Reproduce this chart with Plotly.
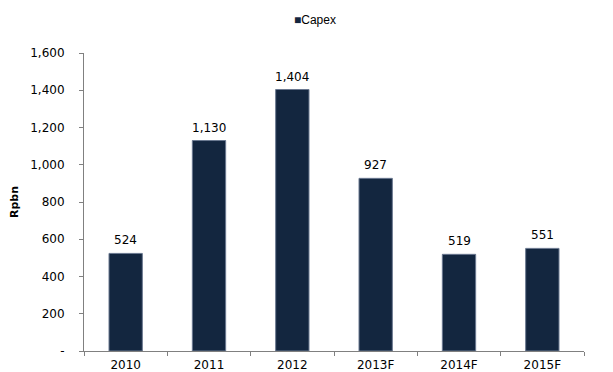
import plotly.graph_objects as go

categories = ["2010", "2011", "2012", "2013F", "2014F", "2015F"]
capex = [524, 1130, 1404, 927, 519, 551]
tick_vals = [0, 200, 400, 600, 800, 1000, 1200, 1400, 1600]
tick_text = ["-", "200", "400", "600", "800", "1,000", "1,200", "1,400", "1,600"]
bar_color = "#13263F"

fig = go.Figure()
fig.add_trace(go.Bar(
    x=categories, y=capex, name="Capex",
    marker=dict(color=bar_color, line=dict(color="#6A7890", width=1)),
    width=0.4, showlegend=False,
))
for i, v in enumerate(capex):
    fig.add_annotation(x=i, y=v, text=f"{v:,}", showarrow=False, yanchor="bottom",
                       yshift=4, font=dict(family="DejaVu Sans", size=12, color="#000"))
fig.add_annotation(xref="paper", yref="paper", x=0.462, y=1.0, yshift=24, xanchor="center",
                   yanchor="bottom", showarrow=False,
                   text=f"<span style='color:{bar_color}'>■</span>Capex",
                   font=dict(family="Liberation Sans", size=12, color="#000"))
fig.update_layout(
    width=613, height=372,
    margin=dict(l=84, r=29, t=53, b=21, autoexpand=False),
    plot_bgcolor="white", paper_bgcolor="white",
    showlegend=False,
    xaxis=dict(type="category", showline=True, linecolor="#808080", linewidth=1, ticks="outside",
               tickcolor="#808080", ticklen=4, tickson="boundaries", automargin=False,
               ticklabelstandoff=3,
               tickfont=dict(family="DejaVu Sans", size=12, color="#000")),
    yaxis=dict(range=[0, 1600], tickvals=tick_vals, ticktext=tick_text, automargin=False,
               showline=True, linecolor="#808080", linewidth=1, ticks="outside",
               tickcolor="#808080", ticklen=4, showgrid=False, zeroline=False,
               ticklabelstandoff=12,
               tickfont=dict(family="DejaVu Sans", size=12, color="#000"),
               title=dict(text="<b>Rpbn</b>", font=dict(family="DejaVu Sans", size=11, color="#000"),
                          standoff=9)),
)
fig.write_html("out.html")
